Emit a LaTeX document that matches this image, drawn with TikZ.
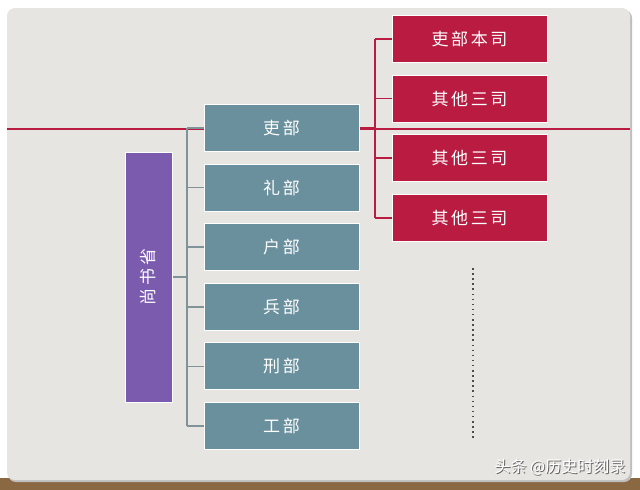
\documentclass[tikz,border=0pt]{standalone}
\usepackage{fontspec}
\newfontfamily\cjk[LetterSpace=15]{Noto Sans CJK SC}
\newfontfamily\markfont{Noto Sans CJK SC}
\usetikzlibrary{positioning}

\definecolor{cardgray}{HTML}{E7E5E1}
\definecolor{deptteal}{HTML}{6A909D}
\definecolor{shengpurple}{HTML}{7B5BAE}
\definecolor{sired}{HTML}{B91C40}
\definecolor{linkgray}{HTML}{7F9399}
\definecolor{wood}{HTML}{8A6842}

\tikzset{
  dept/.style={draw=white, line width=1pt, fill=deptteal, minimum width=155pt,
    minimum height=47pt, inner sep=0pt, text=white, font=\cjk\fontsize{17}{17}\selectfont},
  si/.style={dept, fill=sired},
  sheng/.style={dept, fill=shengpurple, minimum width=250pt, minimum height=47pt, rotate=90},
  tree/.style={draw=linkgray, line width=1.5pt},
  redtree/.style={draw=sired, line width=1.5pt},
  watermark/.style={font=\markfont\fontsize{16}{16}\selectfont}
}

\begin{document}
\begin{tikzpicture}[x=1pt, y=-1pt, node distance=11.6pt]
  \useasboundingbox (0,0) rectangle (640,490);
  % slide background
  \fill[white] (0,0) rectangle (640,490);
  \fill[wood] (0,478) rectangle (640,490);
  \fill[black!25, rounded corners=8pt] (8,10) rectangle (632,482);
  \fill[cardgray, rounded corners=8pt] (7,8) rectangle (630,480);
  \draw[sired, line width=2pt] (7,129) -- (630,129);
  % six ministries
  \node[dept] (personnel) at (281.5,128) {吏部};
  \node[dept, below=of personnel] (rites) {礼部};
  \node[dept, below=of rites] (revenue) {户部};
  \node[dept, below=of revenue] (war) {兵部};
  \node[dept, below=of war] (justice) {刑部};
  \node[dept, below=of justice] (works) {工部};
  \node[sheng] (shangshu) at (148.5,277) {尚书省};
  % bureaus of the personnel ministry
  \node[si] (bensi) at (469.5,39) {吏部本司};
  \node[si, below=of bensi] (sanA) {其他三司};
  \node[si, below=of sanA] (sanB) {其他三司};
  \node[si, below=of sanB] (sanC) {其他三司};
  % brackets
  \coordinate (spine) at (187,0);
  \coordinate (redspine) at (375,0);
  \draw[tree] (shangshu.south) -- (shangshu.south -| spine);
  \draw[tree] (personnel.west -| spine) -- (works.west -| spine);
  \foreach \d in {personnel, rites, revenue, war, justice, works}
    \draw[tree] (\d.west -| spine) -- (\d.west);
  \draw[redtree] (personnel.east) -- (personnel.east -| redspine);
  \draw[redtree] (bensi.west -| redspine) -- (sanC.west -| redspine);
  \foreach \s in {bensi, sanA, sanB, sanC}
    \draw[redtree] (\s.west -| redspine) -- (\s.west);
  \coordinate (more) at (473,268);
  \draw[black!70, line width=2pt, dash pattern=on 1.5pt off 3.6pt] (more) -- ++(0,172);
  % watermark
  \node[watermark, text=black!60] at (561,468) {头条 @历史时刻录};
  \node[watermark, text=white] (wm) at (560,467) {头条 @历史时刻录};
\end{tikzpicture}
\end{document}
